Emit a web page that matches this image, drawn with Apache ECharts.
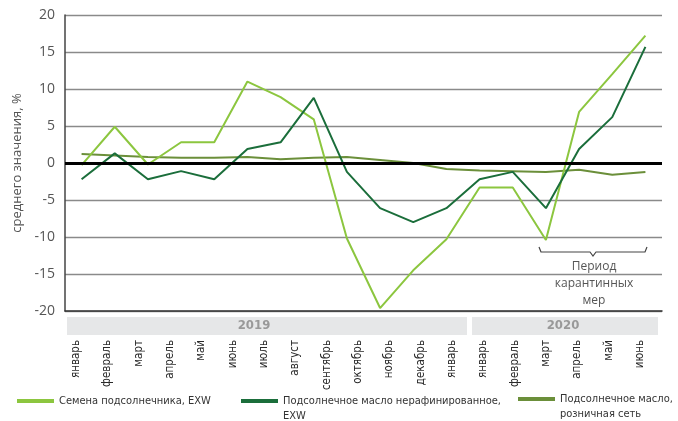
<!DOCTYPE html>
<html>
<head>
<meta charset="utf-8">
<script src="https://cdn.jsdelivr.net/npm/echarts@6/dist/echarts.min.js"></script>
<style>
  html, body { margin: 0; padding: 0; background: #fff; }
  #chart { width: 678px; height: 421px; }
</style>
</head>
<body>
<div id="chart"></div>
<script>
// monthly periods the series are plotted on (Jan 2019 - Jun 2020)
const periods = ['2019-01','2019-02','2019-03','2019-04','2019-05','2019-06','2019-07','2019-08','2019-09',
  '2019-10','2019-11','2019-12','2020-01','2020-02','2020-03','2020-04','2020-05','2020-06'];

// tick labels as printed under the chart
const tickLabels = ['январь','февраль','март','апрель','май','июнь','июль','август','сентябрь','октябрь',
  'ноябрь','декабрь','январь','январь','февраль','март','апрель','май','июнь'];

const seeds = [-0.3, 4.9, -0.2, 2.8, 2.8, 11.0, 8.9, 5.9, -10.2, -19.6, -14.5, -10.3, -3.3, -3.3, -10.4, 6.9, 12.0, 17.2];
const oilExw = [-2.2, 1.3, -2.2, -1.1, -2.2, 1.9, 2.8, 8.8, -1.2, -6.1, -8.0, -6.1, -2.2, -1.2, -6.1, 1.9, 6.2, 15.7];
const oilRetail = [1.2, 1.0, 0.8, 0.7, 0.7, 0.8, 0.5, 0.7, 0.8, 0.4, 0.0, -0.8, -1.0, -1.1, -1.2, -0.9, -1.6, -1.2];

const seriesNames = ['Семена подсолнечника, EXW', 'Подсолнечное масло нерафинированное,\nEXW', 'Подсолнечное масло,\nрозничная сеть'];
const colors = ['#8cc63f', '#1b6e3b', '#6b8f3a'];

const narrow = "'Liberation Sans Narrow', 'DejaVu Sans Condensed', 'Roboto', sans-serif";

const chart = echarts.init(document.getElementById('chart'));

// two-line names get a blank first line so the icon sits level with the first text line
function legendFor(i, left, top) {
    const multi = seriesNames[i].indexOf('\n') >= 0;
    return {
        data: [seriesNames[i]],
        left: left,
        top: top,
        padding: 0,
        icon: 'rect',
        itemWidth: 37,
        itemHeight: 4,
        selectedMode: false,
        formatter: name => (multi ? '\n' : '') + name,
        textStyle: {
            fontFamily: narrow,
            fontSize: 11,
            color: '#333',
            lineHeight: 15
        }
    };
}

const option = {
    animation: false,
    grid: [
        { left: 65, right: 16, top: 15, bottom: 110 },
        { left: 60.5, width: 595, top: 15, bottom: 110 }
    ],
    legend: [
        legendFor(0, 17, 393.5),
        legendFor(1, 241, 378.5),
        legendFor(2, 518, 376.5)
    ],
    xAxis: [
        {
            type: 'category',
            gridIndex: 0,
            data: periods,
            boundaryGap: true,
            axisLine: { show: true, onZero: false, lineStyle: { color: '#333', width: 1.5 } },
            axisTick: { show: false },
            axisLabel: { show: false }
        },
        {
            type: 'category',
            gridIndex: 1,
            data: tickLabels,
            boundaryGap: true,
            axisLine: { show: false },
            axisTick: { show: false },
            axisLabel: {
                rotate: 90,
                interval: 0,
                margin: 29,
                fontFamily: narrow,
                fontSize: 11.5,
                color: '#2a2a2a'
            }
        }
    ],
    yAxis: [
        {
            type: 'value',
            gridIndex: 0,
            min: -20,
            max: 20,
            interval: 5,
            name: 'среднего значения, %',
            nameLocation: 'middle',
            nameRotate: 90,
            nameGap: 33,
            nameTextStyle: { fontFamily: "'Open Sans', sans-serif", fontSize: 13, color: '#555' },
            axisLine: { show: true, lineStyle: { color: '#444', width: 1.5 } },
            axisTick: { show: false },
            axisLabel: { fontFamily: "'Open Sans', sans-serif", fontSize: 14, color: '#555', margin: 10 },
            splitLine: { lineStyle: { color: '#8a8a8a', width: 1.3 } }
        },
        {
            type: 'value',
            gridIndex: 1,
            show: false,
            min: -20,
            max: 20
        }
    ],
    series: [
        {
            name: seriesNames[0],
            type: 'line',
            data: seeds,
            symbol: 'none',
            color: colors[0],
            lineStyle: { width: 2, color: colors[0] },
            z: 4
        },
        {
            name: seriesNames[1],
            type: 'line',
            data: oilExw,
            symbol: 'none',
            color: colors[1],
            lineStyle: { width: 2, color: colors[1] },
            z: 4
        },
        {
            name: seriesNames[2],
            type: 'line',
            data: oilRetail,
            symbol: 'none',
            color: colors[2],
            lineStyle: { width: 2, color: colors[2] },
            z: 3,
            markLine: {
                silent: true,
                symbol: 'none',
                label: { show: false },
                lineStyle: { color: '#000', width: 3, type: 'solid' },
                data: [{ yAxis: 0 }]
            }
        }
    ],
    graphic: [
        // year bands under the plot
        { type: 'rect', shape: { x: 67, y: 317, width: 400, height: 18 }, style: { fill: '#e6e7e8' }, silent: true },
        { type: 'rect', shape: { x: 472, y: 317, width: 186, height: 18 }, style: { fill: '#e6e7e8' }, silent: true },
        { type: 'text', x: 254, y: 326, style: { text: '2019', fill: '#999', font: "bold 13px " + narrow, textAlign: 'center', textVerticalAlign: 'middle' }, silent: true },
        { type: 'text', x: 563, y: 326, style: { text: '2020', fill: '#999', font: "bold 13px " + narrow, textAlign: 'center', textVerticalAlign: 'middle' }, silent: true },
        // quarantine bracket
        {
            type: 'polyline',
            z: 10,
            shape: { points: [[539, 247], [541, 252], [590, 252], [593, 256], [596, 252], [645, 252], [647, 247]] },
            style: { stroke: '#444', lineWidth: 1.2, fill: null },
            silent: true
        },
        {
            type: 'text', x: 594, y: 258,
            style: {
                text: 'Период\nкарантинных\nмер',
                fill: '#555',
                font: "12px 'Open Sans', sans-serif",
                lineHeight: 17,
                textAlign: 'center'
            },
            silent: true
        }
    ]
};

chart.setOption(option);
</script>
</body>
</html>
